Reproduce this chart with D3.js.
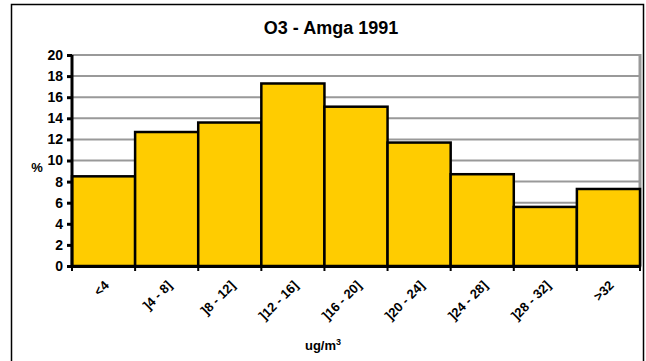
<!DOCTYPE html>
<html>
<head>
<meta charset="utf-8">
<script src="https://cdn.jsdelivr.net/npm/d3@7"></script>
<style>
  body { margin: 0; background: #fff; }
  text { font-family: "Liberation Sans", Arial, sans-serif; }
</style>
</head>
<body>
<div id="chart"></div>
<script>
// ozone concentration classes and frequency (%)
const classes = ["<4", "]4 - 8]", "]8 - 12]", "]12 - 16]", "]16 - 20]", "]20 - 24]", "]24 - 28]", "]28 - 32]", ">32"];
const percent = [8.5, 12.7, 13.6, 17.3, 15.1, 11.7, 8.7, 5.6, 7.3];
const yTicks = [0, 2, 4, 6, 8, 10, 12, 14, 16, 18, 20];

const width = 646, height = 361;
const margin = {top: 55, right: 6, bottom: 95, left: 72};

const svg = d3.select("#chart").append("svg")
    .attr("width", width)
    .attr("height", height);

// outer frame
svg.append("rect")
    .attr("x", 11.5).attr("y", 4.5)
    .attr("width", 632).attr("height", 370)
    .attr("fill", "none")
    .attr("stroke", "#000")
    .attr("stroke-width", 1.5);

const x = d3.scaleBand()
    .domain(classes)
    .range([margin.left, width - margin.right])
    .padding(0);

const y = d3.scaleLinear()
    .domain([0, 20])
    .range([height - margin.bottom, margin.top]);

// gridlines
svg.append("g")
  .selectAll("line")
  .data(yTicks.filter(d => d > 0))
  .join("line")
    .attr("x1", margin.left)
    .attr("x2", width - margin.right)
    .attr("y1", d => y(d))
    .attr("y2", d => y(d))
    .attr("stroke", "#999")
    .attr("stroke-width", 2);

// right plot border
svg.append("line")
    .attr("x1", width - margin.right).attr("x2", width - margin.right)
    .attr("y1", margin.top - 1).attr("y2", y(0))
    .attr("stroke", "#999")
    .attr("stroke-width", 3);

// bars
svg.append("g")
  .selectAll("rect")
  .data(percent)
  .join("rect")
    .attr("x", (d, i) => x(classes[i]))
    .attr("y", d => y(d))
    .attr("width", x.bandwidth())
    .attr("height", d => y(0) - y(d))
    .attr("fill", "#ffcc00")
    .attr("stroke", "#000")
    .attr("stroke-width", 2.5);

// y axis
svg.append("g")
    .attr("transform", `translate(${margin.left},0)`)
    .call(d3.axisLeft(y).tickValues(yTicks).tickSize(5).tickPadding(4))
    .call(g => g.select(".domain").attr("stroke-width", 3).attr("d", `M0,${y(20)}V${y(0)}`))
    .call(g => g.selectAll(".tick line").attr("stroke-width", 3))
    .call(g => g.selectAll(".tick text")
        .attr("font-size", 14)
        .attr("font-weight", "bold")
        .attr("fill", "#000"));

// x axis
const xAxis = svg.append("g")
    .attr("transform", `translate(0,${y(0)})`)
    .call(d3.axisBottom(x).tickSize(0).tickFormat(""));
xAxis.select(".domain").attr("stroke-width", 3);

// tick marks at class boundaries
svg.append("g")
  .selectAll("line")
  .data(d3.range(classes.length + 1))
  .join("line")
    .attr("x1", i => margin.left + i * x.bandwidth())
    .attr("x2", i => margin.left + i * x.bandwidth())
    .attr("y1", y(0))
    .attr("y2", y(0) + 5)
    .attr("stroke", "#000")
    .attr("stroke-width", 2);

// rotated category labels
svg.append("g")
  .selectAll("text")
  .data(classes)
  .join("text")
    .attr("transform", d => `translate(${x(d) + x.bandwidth() / 2 + 3},${y(0) + 17}) rotate(-45)`)
    .attr("text-anchor", "end")
    .attr("dy", "0.35em")
    .attr("font-size", 13)
    .attr("font-weight", "bold")
    .text(d => d);

// title
svg.append("text")
    .attr("x", 331).attr("y", 34)
    .attr("text-anchor", "middle")
    .attr("font-size", 18)
    .attr("font-weight", "bold")
    .text("O3 - Amga 1991");

// y axis label
svg.append("text")
    .attr("x", 37).attr("y", 172)
    .attr("text-anchor", "middle")
    .attr("font-size", 13)
    .attr("font-weight", "bold")
    .text("%");

// x axis label
const xl = svg.append("text")
    .attr("x", 323).attr("y", 350)
    .attr("text-anchor", "middle")
    .attr("font-size", 13)
    .attr("font-weight", "bold");
xl.append("tspan").text("ug/m");
xl.append("tspan").attr("font-size", 9).attr("dy", -5).text("3");
</script>
</body>
</html>
